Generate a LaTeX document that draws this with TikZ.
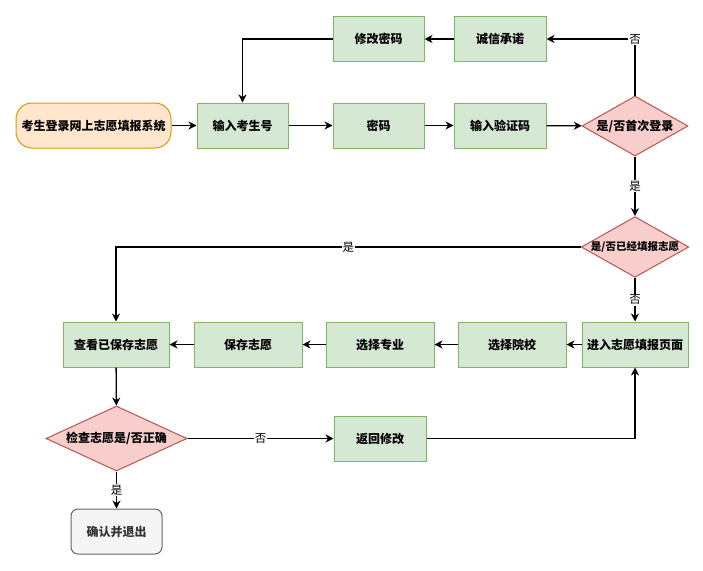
\documentclass[tikz,border=0pt]{standalone}
\usepackage{fontspec}
\setmainfont{Noto Sans CJK SC}
\usepackage{xcolor}
\usetikzlibrary{shapes.geometric,arrows.meta}
\definecolor{procfill}{HTML}{D5E8D4}
\definecolor{procline}{HTML}{82B366}
\definecolor{condfill}{HTML}{F8CECC}
\definecolor{condline}{HTML}{B85450}
\definecolor{startfill}{HTML}{FFE6CC}
\definecolor{startline}{HTML}{D79B00}
\definecolor{endfill}{HTML}{F5F5F5}
\definecolor{endline}{HTML}{666666}
\definecolor{endtext}{HTML}{333333}
\tikzset{
  proc/.style={
    shape = rectangle,
    draw = procline,
    fill = procfill,
    line width = 1pt,
    inner sep = 0pt,
    minimum height = 45pt,
    font = \fontsize{12pt}{14pt}\selectfont\bfseries
  },
  cond/.style={
    shape = diamond,
    draw = condline,
    fill = condfill,
    line width = 1pt,
    inner sep = 0pt,
    font = \fontsize{12pt}{14pt}\selectfont\bfseries
  },
  startbox/.style={
    proc,
    draw = startline,
    fill = startfill,
    rounded corners = 16pt
  },
  finishbox/.style={
    proc,
    draw = endline,
    fill = endfill,
    text = endtext,
    rounded corners = 7pt
  },
  flow/.style={
    line width = 1.3pt,
    -{Stealth[length=8pt,width=8pt,inset=2.5pt]}
  },
  lbl/.style={
    fill = white,
    inner sep = 1pt,
    font = \fontsize{11.5pt}{13pt}\selectfont
  }
}

\begin{document}
\begin{tikzpicture}[x=1pt,y=-1pt]
  \useasboundingbox (0,0) rectangle (703,570);
  % first row
  \node[proc, minimum width=91pt] (modify) at (378.5,39) {修改密码};
  \node[proc, minimum width=92pt] (promise) at (500,39) {诚信承诺};
  % login row
  \node[startbox, minimum width=155pt] (start) at (93.5,125.5) {考生登录网上志愿填报系统};
  \node[proc, minimum width=91pt] (stuid) at (242.5,125.5) {输入考生号};
  \node[proc, minimum width=91pt] (pwd) at (378.5,125.5) {密码};
  \node[proc, minimum width=92pt] (code) at (500,125.5) {输入验证码};
  \node[cond, aspect=1.77, minimum width=106pt, minimum height=60pt] (firstlogin) at (635,126) {是/否首次登录};
  % already filled?
  \node[cond, aspect=1.77, minimum width=106pt, minimum height=60pt,
        font=\fontsize{10.5pt}{12pt}\selectfont\bfseries] (filled) at (635,247) {是/否已经填报志愿};
  % volunteer row
  \node[proc, minimum width=106pt] (view) at (116,344.5) {查看已保存志愿};
  \node[proc, minimum width=108pt] (save) at (248,344.5) {保存志愿};
  \node[proc, minimum width=108pt] (major) at (380,344.5) {选择专业};
  \node[proc, minimum width=108pt] (school) at (512,344.5) {选择院校};
  \node[proc, minimum width=106pt] (entry) at (635,344.5) {进入志愿填报页面};
  % check
  \node[cond, aspect=2.17, minimum width=141pt, minimum height=65pt] (check) at (116.5,438.5) {检查志愿是/否正确};
  \node[proc, minimum width=92pt] (back) at (380,438.5) {返回修改};
  \node[finishbox, minimum width=91pt] (done) at (116.5,531.5) {确认并退出};

  \draw[flow] (start) -- (stuid);
  \draw[flow] (stuid) -- (pwd);
  \draw[flow] (pwd) -- (code);
  \draw[flow] (code) -- (firstlogin);
  \draw[flow] (firstlogin.north) |- node[lbl, pos=0.5] {否} (promise.east);
  \draw[flow] (promise) -- (modify);
  \draw[flow] (modify.west) -| (stuid.north);
  \draw[flow] (firstlogin.south) -- node[lbl] {是} (filled.north);
  \draw[flow] (filled.west) -| node[lbl, pos=0.25] {是} (view.north);
  \draw[flow] (filled.south) -- node[lbl] {否} (entry.north);
  \draw[flow] (entry) -- (school);
  \draw[flow] (school) -- (major);
  \draw[flow] (major) -- (save);
  \draw[flow] (save) -- (view);
  \draw[flow] (view) -- (check);
  \draw[flow] (check.east) -- node[lbl] {否} (back.west);
  \draw[flow] (back.east) -| (entry.south);
  \draw[flow] (check.south) -- node[lbl] {是} (done.north);
\end{tikzpicture}
\end{document}
